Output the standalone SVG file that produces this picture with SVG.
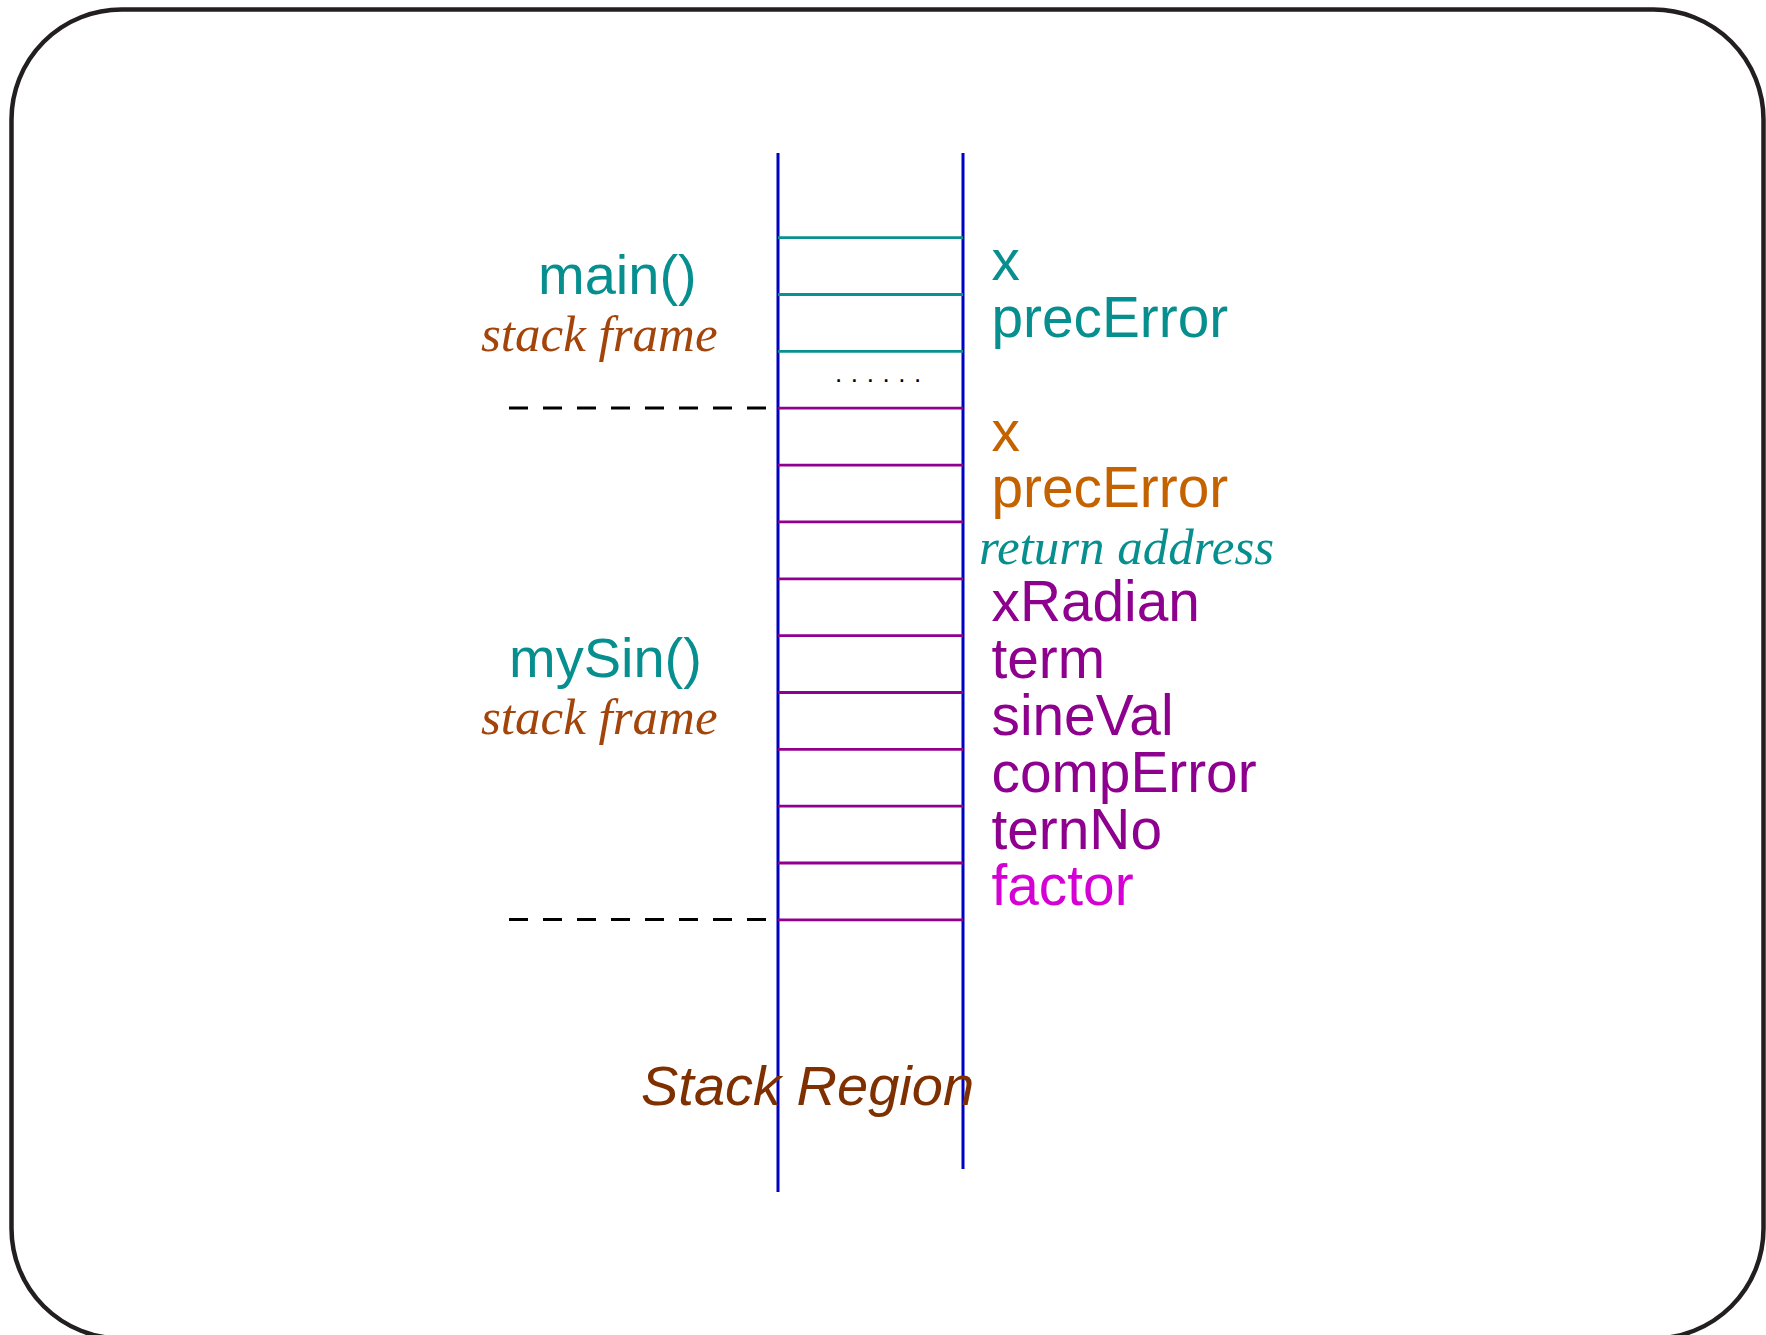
<svg xmlns="http://www.w3.org/2000/svg" width="1766" height="1335" viewBox="0 0 1766 1335">
  <style>
    .frame { fill: none; stroke: #231f20; stroke-width: 4.5; }
    .rail { stroke: #0000c0; stroke-width: 3; }
    .slot-main { stroke: #0a9090; stroke-width: 2.8; }
    .slot-sin { stroke: #900090; stroke-width: 2.8; }
    .bound { stroke: #000; stroke-width: 3; stroke-dasharray: 19 15; }
    .sans { font-family: "Liberation Sans", Arial, sans-serif; font-size: 56px; }
    .var { font-size: 56.8px; }
    .serif-it { font-family: "Liberation Serif", "Times New Roman", serif; font-style: italic; font-size: 51px; }
    .teal { fill: #078f8f; }
    .orange { fill: #c46200; }
    .purple { fill: #8e008e; }
    .magenta { fill: #d400d4; }
    .rust { fill: #a3440a; }
  </style>

  <rect class="frame" x="11.5" y="9.5" width="1752" height="1329" rx="110" ry="110"/>

  <!-- stack column: two rails and the slot separators -->
  <g id="stack">
    <line class="rail" x1="778" y1="153" x2="778" y2="1192"/>
    <line class="rail" x1="963" y1="153" x2="963" y2="1169"/>
    <line class="slot-main" x1="778" y1="237.7" x2="963" y2="237.7"/>
    <line class="slot-main" x1="778" y1="294.5" x2="963" y2="294.5"/>
    <line class="slot-main" x1="778" y1="351.4" x2="963" y2="351.4"/>
    <line class="slot-sin" x1="778" y1="408.2" x2="963" y2="408.2"/>
    <line class="slot-sin" x1="778" y1="465.1" x2="963" y2="465.1"/>
    <line class="slot-sin" x1="778" y1="521.9" x2="963" y2="521.9"/>
    <line class="slot-sin" x1="778" y1="578.8" x2="963" y2="578.8"/>
    <line class="slot-sin" x1="778" y1="635.6" x2="963" y2="635.6"/>
    <line class="slot-sin" x1="778" y1="692.5" x2="963" y2="692.5"/>
    <line class="slot-sin" x1="778" y1="749.3" x2="963" y2="749.3"/>
    <line class="slot-sin" x1="778" y1="806.2" x2="963" y2="806.2"/>
    <line class="slot-sin" x1="778" y1="863" x2="963" y2="863"/>
    <line class="slot-sin" x1="778" y1="919.9" x2="963" y2="919.9"/>
    <text x="835" y="382" font-family="Liberation Sans, Arial, sans-serif" font-size="26" letter-spacing="8.6" fill="#000">......</text>
  </g>

  <!-- frame boundaries -->
  <g id="boundaries">
    <line class="bound" x1="509" y1="408" x2="766" y2="408"/>
    <line class="bound" x1="509" y1="919.5" x2="766" y2="919.5"/>
  </g>

  <g id="main-frame">
    <text class="sans teal" x="538" y="294">main()</text>
    <text class="serif-it rust" x="481" y="350.5">stack frame</text>
  </g>

  <g id="mysin-frame">
    <text class="sans teal" x="509" y="677">mySin()</text>
    <text class="serif-it rust" x="481" y="734">stack frame</text>
  </g>

  <!-- slot contents -->
  <g id="main-vars">
    <text class="sans var teal" x="991.5" y="280">x</text>
    <text class="sans var teal" x="991.5" y="337">precError</text>
  </g>
  <g id="mysin-vars">
    <text class="sans var orange" x="991.5" y="450.5">x</text>
    <text class="sans var orange" x="991.5" y="507.4">precError</text>
    <text class="serif-it teal" x="979" y="564" font-size="51.5">return address</text>
    <text class="sans var purple" x="991.5" y="621">xRadian</text>
    <text class="sans var purple" x="991.5" y="678">term</text>
    <text class="sans var purple" x="991.5" y="734.8">sineVal</text>
    <text class="sans var purple" x="991.5" y="791.6">compError</text>
    <text class="sans var purple" x="991.5" y="848.5">ternNo</text>
    <text class="sans var magenta" x="991.5" y="905.3">factor</text>
  </g>

  <g id="caption">
    <text class="sans" x="641" y="1105" font-style="italic" fill="#7f3000">Stack Region</text>
  </g>
</svg>
